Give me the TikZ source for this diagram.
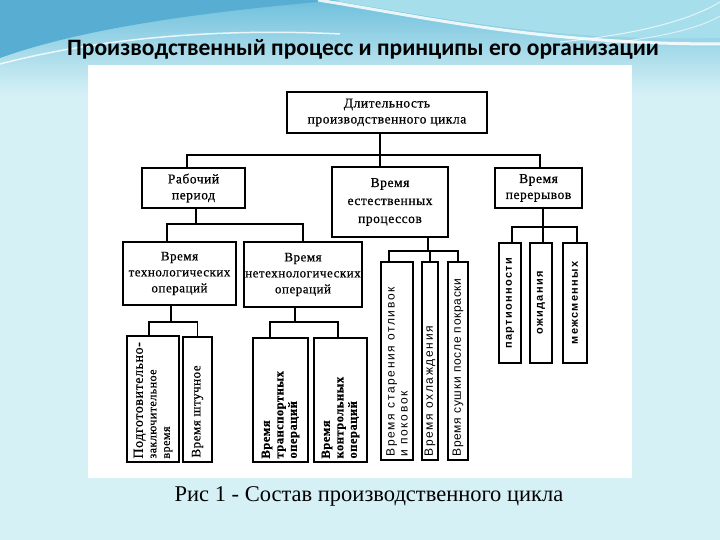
\documentclass[tikz,border=0pt]{standalone}
\usepackage{fontspec}
\setmainfont{Liberation Serif}
\newfontfamily\titlefont{Carlito}
\newfontfamily\diagf[LetterSpace=4,FakeBold=0.6]{Liberation Serif}
\newfontfamily\sansw[LetterSpace=14]{Liberation Sans}
\newfontfamily\sansm[LetterSpace=6]{Liberation Sans}
\newfontfamily\sansb[LetterSpace=12]{Liberation Sans}
\usetikzlibrary{calc}
\definecolor{bgc}{HTML}{D6F1F6}
\definecolor{topc}{HTML}{6FC0DC}
\definecolor{wavec}{HTML}{58AED2}
\definecolor{lightc}{HTML}{A6DEEB}
\begin{document}
\begin{tikzpicture}[x=1pt,y=-1pt,
  box/.style={draw=black, line width=1.4pt, fill=white, inner sep=0pt, align=center,
    font=\diagf\fontsize{13.5}{16}\selectfont},
  vbox/.style={draw=black, line width=1.4pt, fill=white, inner sep=0pt},
  vtext/.style={rotate=90, anchor=west, inner sep=0pt, align=left,
    font=\diagf\fontsize{12}{13.5}\selectfont},
  stext/.style={rotate=90, anchor=west, inner sep=0pt, align=left,
    font=\sansw\fontsize{12}{13}\selectfont},
  ptext/.style={rotate=90, inner sep=0pt, font=\sansb\bfseries\fontsize{11}{12}\selectfont},
  conn/.style={line width=1.4pt}
]
\useasboundingbox (0,0) rectangle (720,540);
% background
\fill[bgc] (0,0) rectangle (720,540);
\shade[top color=topc, bottom color=bgc] (0,0) rectangle (720,95);
\fill[lightc] (330,0) .. controls (450,20) and (560,42) .. (720,38) -- (720,0) -- cycle;
\fill[wavec] (0,0) -- (340,0) .. controls (250,8) and (100,22) .. (0,58) -- cycle;
\draw[white, line width=3pt, opacity=0.85] (318,0) .. controls (430,18) and (540,44) .. (720,44);
\draw[white, line width=1.5pt, opacity=0.8] (0,64) .. controls (100,38) and (220,28) .. (340,34);
\draw[white, line width=1pt, opacity=0.7] (560,42) .. controls (640,34) and (690,20) .. (720,2);
\draw[white, line width=1pt, opacity=0.6] (600,44) .. controls (660,38) and (700,28) .. (720,16);
% white panel
\fill[white] (88,65) rectangle (632,478);
% title
\node[font=\titlefont\bfseries\fontsize{23.5}{27}\selectfont] (title) at (363,49) {Производственный процесс и принципы его организации};
% caption
\node[font=\fontsize{22.5}{26}\selectfont] (cap) at (369,496) {Рис 1 - Состав производственного цикла};

% level 1
\node[box, minimum width=200pt, minimum height=41pt] (top) at (387,112.5) {Длительность\\производственного цикла};
% level 2
\node[box, minimum width=103pt, minimum height=40pt] (rab) at (193.5,188) {Рабочий\\период};
\node[box, minimum width=116pt, minimum height=70pt, font=\diagf\fontsize{13.5}{18}\selectfont] (est) at (390,202) {Время\\естественных\\процессов};
\node[box, minimum width=87pt, minimum height=40pt] (per) at (538.5,188) {Время\\перерывов};
% level 3
\node[box, minimum width=113pt, minimum height=63pt, font=\diagf\fontsize{13}{16}\selectfont] (tech) at (179.5,273.5) {Время\\технологических\\операций};
\node[box, minimum width=118pt, minimum height=65pt, font=\diagf\fontsize{13}{16}\selectfont] (ntech) at (303,274.5) {Время\\нетехнологических\\операций};
% vertical boxes
\node[vbox, minimum width=52pt, minimum height=126pt] (pz) at (153,399) {};
\node[vbox, minimum width=29pt, minimum height=125pt] (sht) at (197.5,399.5) {};
\node[vbox, minimum width=55pt, minimum height=124pt] (tr) at (280.5,400) {};
\node[vbox, minimum width=53pt, minimum height=124pt] (kn) at (340.5,400) {};
\node[vbox, minimum width=32pt, minimum height=198pt] (s1) at (397,361) {};
\node[vbox, minimum width=16pt, minimum height=198pt] (s2) at (430,361) {};
\node[vbox, minimum width=20pt, minimum height=198pt] (s3) at (458,361) {};
\node[vbox, minimum width=22pt, minimum height=120pt] (p1) at (510,303) {};
\node[vbox, minimum width=22pt, minimum height=120pt] (p2) at (541,303) {};
\node[vbox, minimum width=24pt, minimum height=120pt] (p3) at (575,303) {};

% vertical texts
\node[vtext] (tpz) at ([yshift=4pt]pz.south) {{\fontsize{14}{14}\selectfont Подготовительно-}\\заключительное\\время};
\node[vtext, font=\diagf\fontsize{13}{14}\selectfont] (tsht) at ([yshift=5pt]sht.south) {Время штучное};
\node[vtext, font=\diagf\bfseries\fontsize{12.5}{13.5}\selectfont] (ttr) at ([yshift=4pt]tr.south) {Время\\транспортных\\операций};
\node[vtext, font=\diagf\bfseries\fontsize{12.5}{13.5}\selectfont] (tkn) at ([yshift=4pt]kn.south) {Время\\контрольных\\операций};
\node[stext] (ts1) at ([yshift=4pt]s1.south) {Время старения отливок\\ и поковок};
\node[stext] (ts2) at ([yshift=4pt]s2.south) {Время охлаждения};
\node[stext, font=\sansm\fontsize{12}{13}\selectfont] (ts3) at ([yshift=4pt]s3.south) {Время сушки после покраски};
\node[ptext] (tp1) at (p1) {партионности};
\node[ptext] (tp2) at (p2) {ожидания};
\node[ptext] (tp3) at (p3) {межсменных};

% connectors
\coordinate (bus1) at (380,155);
\draw[conn] (top.south -| bus1) -- (bus1);
\draw[conn] ([xshift=-6.5pt]rab.north) |- (bus1) -| ([xshift=1.5pt]per.north);
\draw[conn] (bus1) -- (bus1 |- est.north);

\coordinate (bus2) at (196,224);
\draw[conn] (rab.south -| bus2) -- (bus2);
\draw[conn] ([xshift=-12.5pt]tech.north) |- (bus2) -| (ntech.north);

\coordinate (bus3) at (171,322);
\draw[conn] (tech.south -| bus3) -- (bus3);
\draw[conn] ([xshift=-4pt]pz.north) |- (bus3) -| (sht.north);

\coordinate (bus4) at (295,322);
\draw[conn] (ntech.south -| bus4) -- (bus4);
\draw[conn] ([xshift=-10.5pt]tr.north) |- (bus4) -| ([xshift=-2.5pt]kn.north);

\coordinate (bus5) at (428,251);
\draw[conn] (est.south -| bus5) -- (bus5);
\draw[conn] ([xshift=-8pt]s1.north) |- (bus5) -| (s3.north);
\draw[conn] (bus5 -| s2.north) -- (s2.north);

\coordinate (bus6) at (543,227);
\draw[conn] (per.south -| bus6) -- (bus6);
\draw[conn] ([xshift=2pt]p1.north) |- (bus6) -| ([xshift=2pt]p3.north);
\draw[conn] (bus6) -- (bus6 |- p2.north);
\end{tikzpicture}
\end{document}
